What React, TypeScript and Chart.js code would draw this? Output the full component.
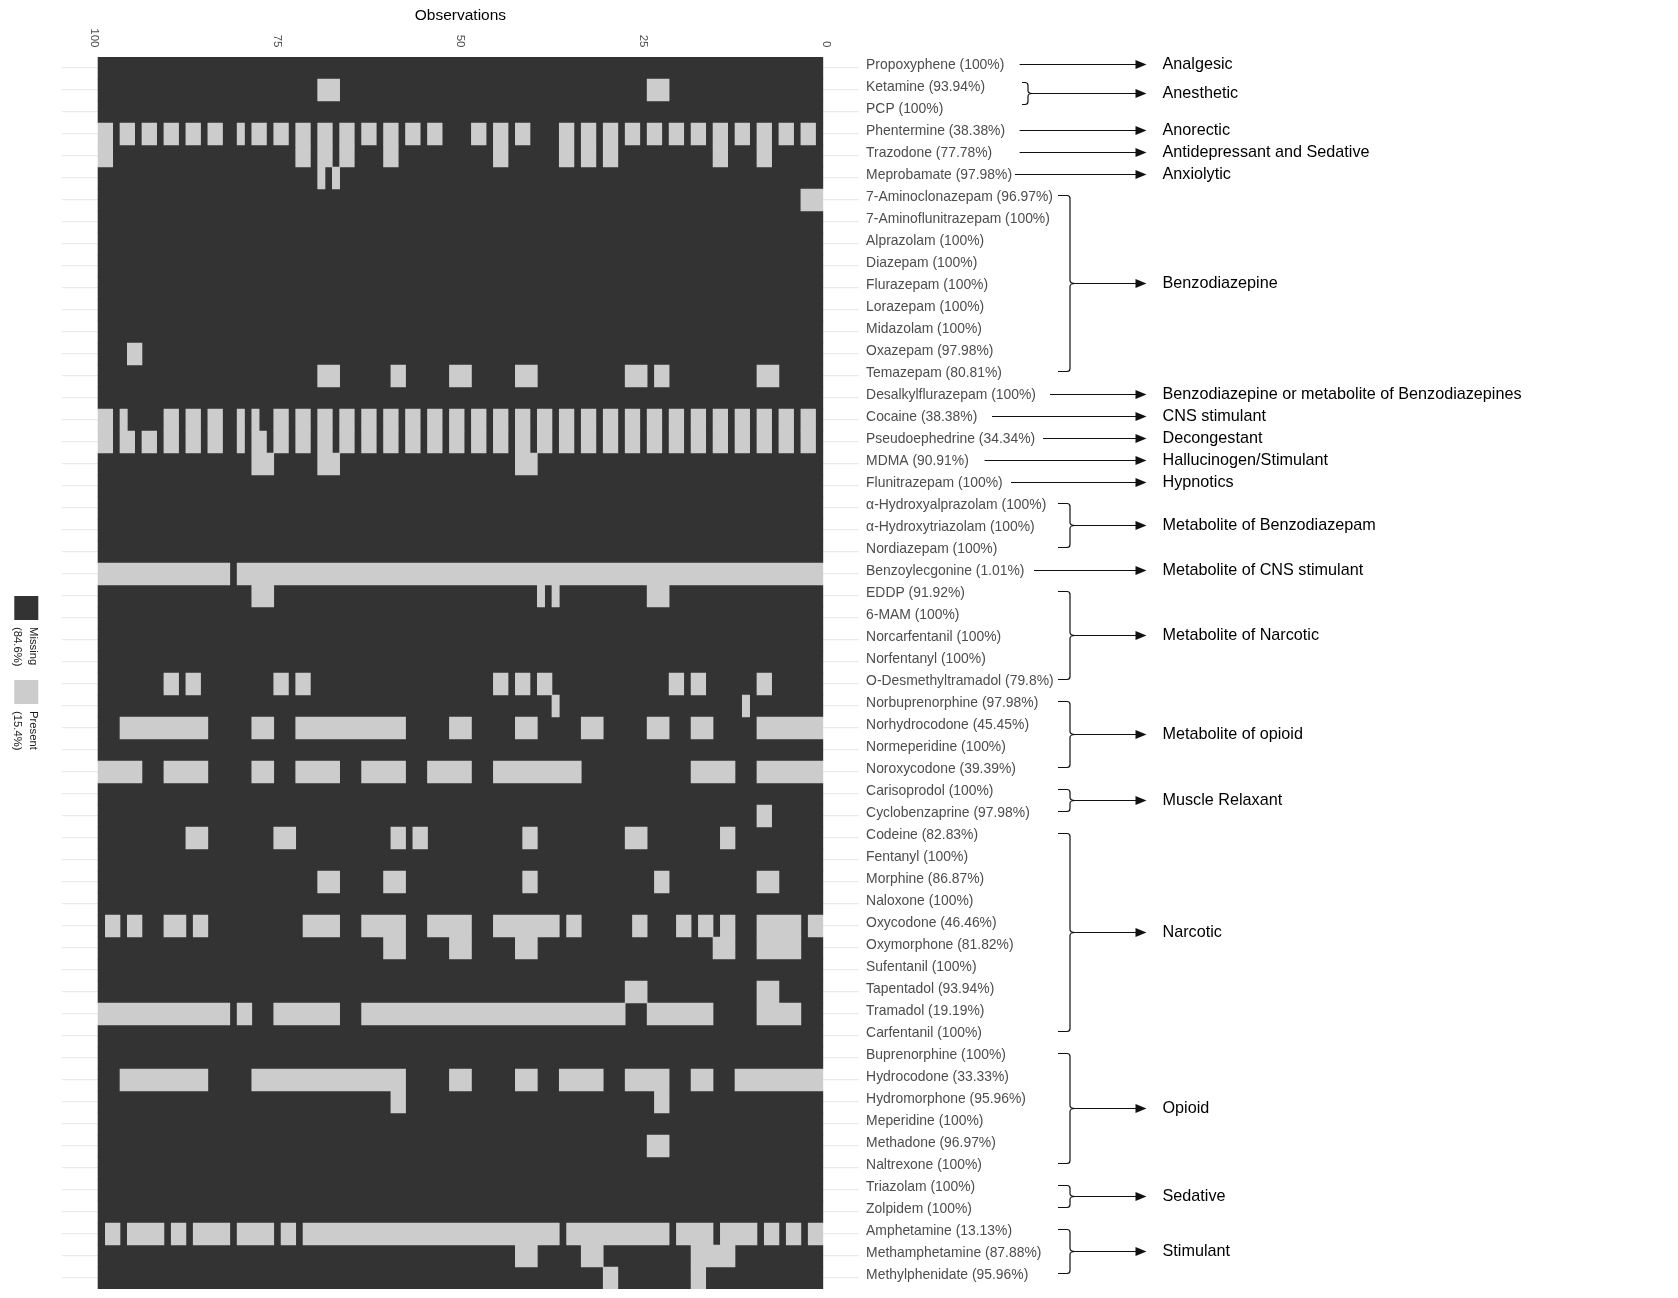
import React, { useEffect, useRef } from 'react';
import { Chart, registerables } from 'chart.js';

Chart.register(...registerables);

const FONT = "'Liberation Sans', Arial, Helvetica, sans-serif";

// ---------------- data ----------------
const nObservations = 99;
const xTickValues = [0, 25, 50, 75, 100];

const variables = [
  'Propoxyphene', 'Ketamine', 'PCP', 'Phentermine', 'Trazodone', 'Meprobamate',
  '7-Aminoclonazepam', '7-Aminoflunitrazepam', 'Alprazolam', 'Diazepam', 'Flurazepam',
  'Lorazepam', 'Midazolam', 'Oxazepam', 'Temazepam', 'Desalkylflurazepam', 'Cocaine',
  'Pseudoephedrine', 'MDMA', 'Flunitrazepam', 'α-Hydroxyalprazolam', 'α-Hydroxytriazolam',
  'Nordiazepam', 'Benzoylecgonine', 'EDDP', '6-MAM', 'Norcarfentanil', 'Norfentanyl',
  'O-Desmethyltramadol', 'Norbuprenorphine', 'Norhydrocodone', 'Normeperidine',
  'Noroxycodone', 'Carisoprodol', 'Cyclobenzaprine', 'Codeine', 'Fentanyl', 'Morphine',
  'Naloxone', 'Oxycodone', 'Oxymorphone', 'Sufentanil', 'Tapentadol', 'Tramadol',
  'Carfentanil', 'Buprenorphine', 'Hydrocodone', 'Hydromorphone', 'Meperidine',
  'Methadone', 'Naltrexone', 'Triazolam', 'Zolpidem', 'Amphetamine', 'Methamphetamine',
  'Methylphenidate',
];

const missingPct = [
  '100', '93.94', '100', '38.38', '77.78', '97.98',
  '96.97', '100', '100', '100', '100',
  '100', '100', '97.98', '80.81', '100', '38.38',
  '34.34', '90.91', '100', '100', '100',
  '100', '1.01', '91.92', '100', '100', '100',
  '79.8', '97.98', '45.45', '100',
  '39.39', '100', '97.98', '82.83', '100', '86.87',
  '100', '46.46', '81.82', '100', '93.94', '19.19',
  '100', '100', '33.33', '95.96', '100',
  '96.97', '100', '100', '100', '13.13', '87.88',
  '95.96',
];

// observation numbers (1..99) where a value is present, as runs "from-to"
const presentRuns = [
  '',
  '22-24 67-69',
  '',
  '2-3 5-6 8-9 11-12 14-15 17-18 20-21 23-24 26-27 29-30 32-33 35-36 41-42 44-45 47-48 53-54 56-57 59-60 62-63 65-66 68-69 71-72 74-75 77-78 80 83-84 86-87 89-90 92-93 95-96 98-99',
  '8-9 14-15 29-30 32-33 35-36 44-45 59-60 65-66 68-69 71-72 98-99',
  '67 69',
  '1-3',
  '', '', '', '', '', '',
  '94-95',
  '7-9 22-23 25-27 40-42 49-51 58-59 67-69',
  '',
  '2-3 5-6 8-9 11-12 14-15 17-18 20-21 23-24 26-27 29-30 32-33 35-36 38-39 41-42 44-45 47-48 50-51 53-54 56-57 59-60 62-63 65-66 68-69 71-72 74-75 78 80 83-84 86-87 89-90 96 98-99',
  '2-3 5-6 8-9 11-12 14-15 17-18 20-21 23-24 26-27 29-30 32-33 35-36 38-39 41-42 44-45 47-48 50-51 53-54 56-57 59-60 62-63 65-66 68-69 71-72 74-75 77-78 80 83-84 86-87 89-90 92-93 95-96 98-99',
  '40-42 67-69 76-78',
  '', '', '', '',
  '1-80 82-99',
  '22-24 37 39 76-78',
  '', '', '',
  '8-9 17-18 20-21 38-39 41-42 44-45 71-72 74-75 86-87 89-90',
  '11 37',
  '1-9 16-18 22-24 31-33 40-42 49-51 58-72 76-78 85-96',
  '',
  '1-9 13-18 34-45 49-54 58-63 67-72 76-78 85-90 94-99',
  '',
  '8-9',
  '13-14 25-27 40-41 55-56 58-59 73-75 85-87',
  '',
  '7-9 22-23 40-41 58-60 67-69',
  '',
  '1-2 4-9 13-14 16-17 19-20 25-26 34-35 37-45 49-54 58-63 67-71 85-86 88-90 94-95 97-98',
  '4-9 13-15 40-42 49-51 58-60',
  '',
  '7-9 25-27',
  '4-9 16-24 28-63 67-75 79-80 82-99',
  '',
  '',
  '1-12 16-18 22-27 31-36 40-42 49-51 58-78 85-96',
  '22-23 58-59',
  '',
  '22-24',
  '', '', '',
  '1-2 4-5 7-8 10-14 16-20 22-35 37-71 73-74 76-80 82-86 88-89 91-95 97-98',
  '13-18 31-33 40-42',
  '17-18 29-30',
];

const legendLabels = ['Missing', 'Present'];
const legendPcts = ['(84.6%)', '(15.4%)'];

const groupNames = [
  'Analgesic', 'Anesthetic', 'Anorectic', 'Antidepressant and Sedative', 'Anxiolytic',
  'Benzodiazepine', 'Benzodiazepine or metabolite of Benzodiazepines', 'CNS stimulant',
  'Decongestant', 'Hallucinogen/Stimulant', 'Hypnotics', 'Metabolite of Benzodiazepam',
  'Metabolite of CNS stimulant', 'Metabolite of Narcotic', 'Metabolite of opioid',
  'Muscle Relaxant', 'Narcotic', 'Opioid', 'Sedative', 'Stimulant',
];
const groupSizes = [1, 2, 1, 1, 1, 9, 1, 1, 1, 1, 1, 3, 1, 5, 4, 2, 10, 6, 2, 3];

// ---------------- layout (pixels) ----------------
const W = 1678;
const H = 1298;
const AREA = { left: 61.8, right: 859.1, top: 57, bottom: 1289 };
const DARK = '#333333';
const LIGHT = '#cccccc';
const arrowStartX = [1019.6, null, 1019.6, 1019.6, 1015, null, 1050, 992, 1043, 984.6, 1011, null, 1034, null, null, null, null, null, null, null];
const ARROW_TIP = 1146.5;
const GROUP_LABEL_X = 1162.5;

function parseRuns(s: string): [number, number][] {
  const t = s.trim();
  if (!t) return [];
  return t.split(/\s+/).map((tok) => {
    const parts = tok.split('-').map(Number);
    return [parts[0], parts.length > 1 ? parts[1] : parts[0]] as [number, number];
  });
}

function complement(runs: [number, number][], n: number): [number, number][] {
  const res: [number, number][] = [];
  let start = 1;
  const sorted = [...runs].sort((p, q) => p[0] - q[0]);
  for (const [a, b] of sorted) {
    if (a > start) res.push([start, a - 1]);
    start = b + 1;
  }
  if (start <= n) res.push([start, n]);
  return res;
}

const yLabels = variables.map((v, i) => `${v} (${missingPct[i]}%)`);
const presentData: { x: [number, number]; y: string }[] = [];
const missingData: { x: [number, number]; y: string }[] = [];
variables.forEach((_, i) => {
  const pr = parseRuns(presentRuns[i]);
  pr.forEach(([a, b]) => presentData.push({ x: [a - 0.5, b + 0.5], y: yLabels[i] }));
  complement(pr, nObservations).forEach(([a, b]) => missingData.push({ x: [a - 0.5, b + 0.5], y: yLabels[i] }));
});

function drawArrow(ctx: CanvasRenderingContext2D, x0: number, x1: number, y: number) {
  const yy = Math.round(y) + 0.5;
  ctx.beginPath();
  ctx.moveTo(x0, yy);
  ctx.lineTo(x1 - 9, yy);
  ctx.stroke();
  ctx.beginPath();
  ctx.moveTo(x1, yy);
  ctx.lineTo(x1 - 11, yy - 4.5);
  ctx.lineTo(x1 - 11, yy + 4.5);
  ctx.closePath();
  ctx.fill();
}

function drawBrace(ctx: CanvasRenderingContext2D, x0: number, x1: number, xp: number, top: number, bot: number) {
  const r = 3;
  const mid = Math.round((top + bot) / 2) + 0.5;
  const t = Math.round(top) + 0.5;
  const b = Math.round(bot) + 0.5;
  ctx.beginPath();
  ctx.moveTo(x0, t);
  ctx.lineTo(x1 - r, t);
  ctx.quadraticCurveTo(x1, t, x1, t + r);
  ctx.lineTo(x1, mid - r);
  ctx.quadraticCurveTo(x1, mid, xp, mid);
  ctx.quadraticCurveTo(x1, mid, x1, mid + r);
  ctx.lineTo(x1, b - r);
  ctx.quadraticCurveTo(x1, b, x1 - r, b);
  ctx.lineTo(x0, b);
  ctx.stroke();
}

const annotationPlugin = {
  id: 'missAnnotations',
  afterDraw(chart: any) {
    const ctx: CanvasRenderingContext2D = chart.ctx;
    const xs = chart.scales.x;
    const ys = chart.scales.y;
    ctx.save();

    // rotated observation ticks on top
    ctx.font = `11.5px ${FONT}`;
    ctx.fillStyle = '#4d4d4d';
    ctx.textAlign = 'right';
    ctx.textBaseline = 'middle';
    for (const v of xTickValues) {
      const px = xs.getPixelForValue(v);
      ctx.save();
      ctx.translate(px, 47.5);
      ctx.rotate(Math.PI / 2);
      ctx.fillText(String(v), 0, 0);
      ctx.restore();
    }

    // legend on the left
    const legendColors = [DARK, LIGHT];
    const keyTops = [596, 680];
    legendLabels.forEach((lab, i) => {
      ctx.fillStyle = legendColors[i];
      ctx.fillRect(14.3, keyTops[i], 24, 24);
      ctx.fillStyle = '#1a1a1a';
      ctx.font = `11.3px ${FONT}`;
      ctx.textAlign = 'left';
      ctx.textBaseline = 'middle';
      ctx.save();
      ctx.translate(33.3, keyTops[i] + 31);
      ctx.rotate(Math.PI / 2);
      ctx.fillText(lab, 0, 0);
      ctx.fillText(legendPcts[i], 0, 16);
      ctx.restore();
    });

    // category groups: braces, arrows, labels
    ctx.strokeStyle = '#111';
    ctx.fillStyle = '#111';
    ctx.lineWidth = 1.2;
    ctx.font = `16.2px ${FONT}`;
    ctx.textAlign = 'left';
    ctx.textBaseline = 'middle';
    let row = 0;
    groupNames.forEach((name, g) => {
      const first = row;
      const last = row + groupSizes[g] - 1;
      row = last + 1;
      const yc1 = ys.getPixelForValue(first);
      const yc2 = ys.getPixelForValue(last);
      let y: number;
      let xStart: number;
      if (first === last) {
        y = yc1 - 4;
        xStart = arrowStartX[g] as number;
      } else {
        const shift = g === 1 ? 8.5 : 5;
        const top = yc1 - shift;
        const bot = yc2 - shift;
        y = (top + bot) / 2;
        const br = g === 1 ? { x0: 1022, x1: 1028, xp: 1032 } : { x0: 1058, x1: 1070, xp: 1075 };
        drawBrace(ctx, br.x0, br.x1, br.xp, top, bot);
        xStart = br.xp;
      }
      drawArrow(ctx, xStart, ARROW_TIP, y);
      ctx.fillStyle = '#000';
      ctx.fillText(name, GROUP_LABEL_X, Math.round(y) + 0.5);
      ctx.fillStyle = '#111';
    });

    ctx.restore();
  },
};

export default function App() {
  const ref = useRef<HTMLCanvasElement>(null);

  useEffect(() => {
    const canvas = ref.current;
    if (!canvas) return;
    const chart = new Chart(canvas, {
      type: 'bar',
      data: {
        labels: yLabels,
        datasets: [
          {
            label: 'Present',
            data: presentData as any,
            backgroundColor: LIGHT,
            borderWidth: 0,
            grouped: false,
            order: 1,
            categoryPercentage: 1,
            barPercentage: 1,
          } as any,
          {
            label: 'Missing',
            data: missingData as any,
            backgroundColor: DARK,
            borderWidth: 0,
            grouped: false,
            order: 2,
            categoryPercentage: 1,
            barPercentage: 1,
          } as any,
        ],
      },
      options: {
        indexAxis: 'y',
        animation: false,
        responsive: false,
        maintainAspectRatio: false,
        devicePixelRatio: 1,
        events: [],
        layout: {
          autoPadding: false,
          padding: { left: AREA.left, right: 0, top: 0, bottom: H - AREA.bottom },
        },
        plugins: {
          legend: { display: false },
          tooltip: { enabled: false },
        },
        scales: {
          x: {
            type: 'linear',
            position: 'top',
            min: -4.45,
            max: 104.45,
            reverse: true,
            ticks: { display: false, stepSize: 12.5 },
            grid: {
              color: '#ebebeb',
              drawTicks: false,
              lineWidth: (c: any) => (c.tick && c.tick.value % 25 === 0 ? 1.3 : 0.65),
            },
            border: { display: false },
            title: {
              display: true,
              text: 'Observations',
              color: '#000',
              font: { family: FONT, size: 15.5 },
              padding: { top: 6.5, bottom: 0 },
            },
            afterBuildTicks: (s: any) => {
              s.ticks = s.ticks.filter((t: any) => t.value >= 0 && t.value <= 100);
            },
            afterFit: (s: any) => {
              s.height = AREA.top;
              s.paddingLeft = 0;
              s.paddingRight = 0;
              s.paddingTop = 0;
              s.paddingBottom = 0;
            },
          },
          y: {
            type: 'category',
            position: 'right',
            offset: true,
            ticks: {
              autoSkip: false,
              padding: 7,
              labelOffset: -3,
              color: '#4d4d4d',
              font: { family: FONT, size: 13.9 },
            },
            grid: { color: '#ebebeb', lineWidth: 1.3, offset: false, drawTicks: false },
            border: { display: false },
            afterFit: (s: any) => {
              s.width = W - AREA.right;
              s.paddingLeft = 0;
              s.paddingRight = 0;
              s.paddingTop = 0;
              s.paddingBottom = 0;
            },
          },
        },
      } as any,
      plugins: [annotationPlugin],
    });
    return () => chart.destroy();
  }, []);

  return (
    <div style={{ position: 'absolute', left: 0, top: 0, width: W, height: H, background: '#ffffff' }}>
      <canvas ref={ref} width={W} height={H} style={{ display: 'block', width: W, height: H }} />
    </div>
  );
}
